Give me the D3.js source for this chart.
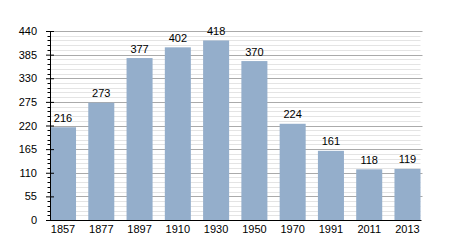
<!DOCTYPE html>
<html>
<head>
<meta charset="utf-8">
<script src="https://cdn.jsdelivr.net/npm/d3@7"></script>
<style>
  body { margin: 0; background: #fff; }
  text { font-family: "Liberation Sans", Arial, sans-serif; font-size: 11px; fill: #000; }
</style>
</head>
<body>
<div class="panel"></div>
<script>

const years = ["1857", "1877", "1897", "1910", "1930", "1950", "1970", "1991", "2011", "2013"];
const population = [216, 273, 377, 402, 418, 370, 224, 161, 118, 119];
const majorTicks = [0, 55, 110, 165, 220, 275, 330, 385, 440];
const minorStep = 11;

const dim = { width: 450, height: 250 };
const margin = { left: 50, right: 29.5, top: 31, bottom: 30 };

const svg = d3.select(".panel").append("svg")
    .attr("width", dim.width)
    .attr("height", dim.height);

const x = d3.scaleBand()
    .domain(years)
    .range([margin.left, dim.width - margin.right])
    .paddingInner(0.32)
    .paddingOuter(0);

const y = d3.scaleLinear()
    .domain([0, 440])
    .range([dim.height - margin.bottom, margin.top]);

const minorTicks = d3.range(0, 441, minorStep).filter(v => v % 55 !== 0);

// Grid ////////////////////////////////////

svg.append("g")
    .selectAll("line")
    .data(minorTicks)
    .join("line")
    .attr("x1", margin.left)
    .attr("x2", dim.width - margin.right)
    .attr("y1", d => Math.round(y(d)) + 0.5)
    .attr("y2", d => Math.round(y(d)) + 0.5)
    .attr("stroke", "#e4e4e4");

svg.append("g")
    .selectAll("line")
    .data(majorTicks.filter(d => d > 0))
    .join("line")
    .attr("x1", margin.left)
    .attr("x2", dim.width - margin.right + 2)
    .attr("y1", d => Math.round(y(d)) + 0.5)
    .attr("y2", d => Math.round(y(d)) + 0.5)
    .attr("stroke", "#aaaaaa");

// Bars

svg.append("g")
    .selectAll("rect")
    .data(population)
    .join("rect")
    .attr("x", (d, i) => x(years[i]))
    .attr("y", d => y(d))
    .attr("width", x.bandwidth())
    .attr("height", d => y(0) - y(d))
    .attr("fill", "#94aecb");

svg.append("g")
    .selectAll("text")
    .data(population)
    .join("text")
    .attr("x", (d, i) => x(years[i]) + x.bandwidth() / 2)
    .attr("y", d => y(d) - 5.5)
    .attr("text-anchor", "middle")
    .text(d => d);

// Axes

const yAxis = svg.append("g")
    .attr("transform", `translate(${ margin.left },0)`)
    .call(d3.axisLeft(y).tickValues(majorTicks).tickSize(4).tickPadding(9));

yAxis.selectAll(".tick line").attr("x2", -4).attr("x1", 4);
yAxis.select(".domain").attr("d", `M0.5,${ y(440) }V${ y(0) }`);

svg.append("g")
    .attr("transform", `translate(${ margin.left + 0.5 },0)`)
    .selectAll("line")
    .data(minorTicks)
    .join("line")
    .attr("x1", -3)
    .attr("x2", 0)
    .attr("y1", d => Math.round(y(d)) + 0.5)
    .attr("y2", d => Math.round(y(d)) + 0.5)
    .attr("stroke", "#000");

svg.selectAll(".tick text")
    .style("font-family", "'Liberation Sans', Arial, sans-serif")
    .style("font-size", "11px");

svg.append("line")
    .attr("x1", margin.left)
    .attr("x2", dim.width - margin.right + 1)
    .attr("y1", Math.round(y(0)) + 0.5)
    .attr("y2", Math.round(y(0)) + 0.5)
    .attr("stroke", "#000");

svg.append("g")
    .selectAll("text")
    .data(years)
    .join("text")
    .attr("x", d => x(d) + x.bandwidth() / 2)
    .attr("y", y(0) + 13)
    .attr("text-anchor", "middle")
    .text(d => d);

</script>
</body>
</html>
